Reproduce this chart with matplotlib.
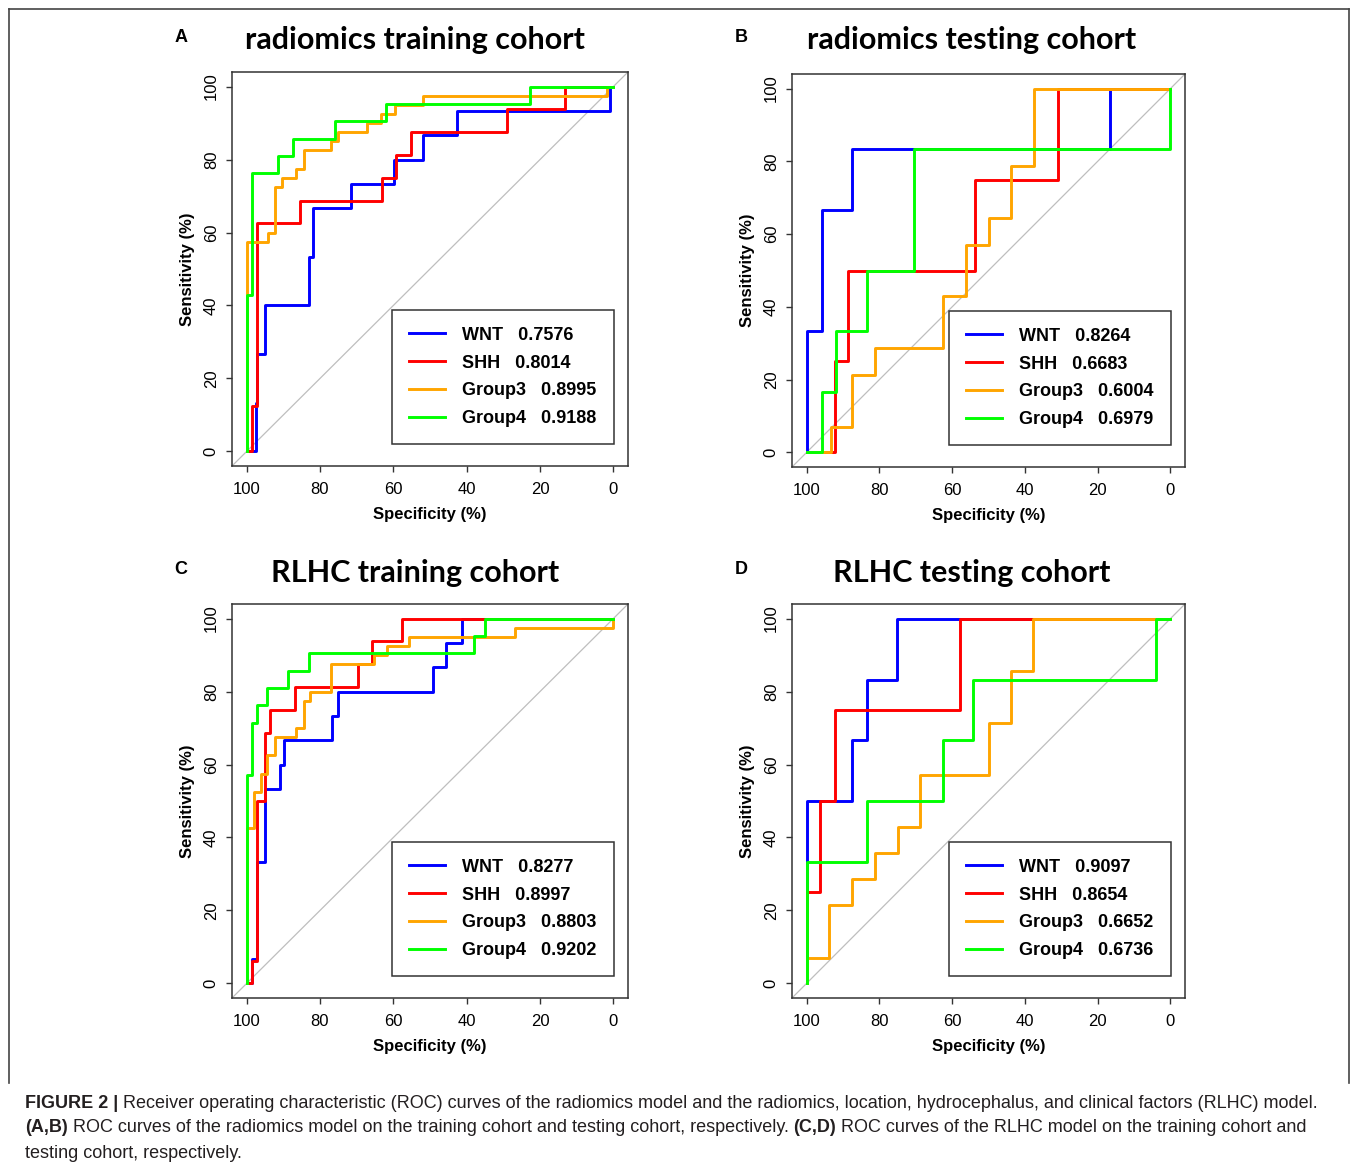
import matplotlib.pyplot as plt
from matplotlib.lines import Line2D

W, H = 1357, 1170

groups = ["WNT", "SHH", "Group3", "Group4"]
colors = ["#0000FF", "#FF0000", "#FFA500", "#00FF00"]
titles = ["radiomics training cohort", "radiomics testing cohort",
          "RLHC training cohort", "RLHC testing cohort"]
letters = ["A", "B", "C", "D"]

# AUC per panel (WNT, SHH, Group3, Group4)
auc_a = [0.7576, 0.8014, 0.8995, 0.9188]
auc_b = [0.8264, 0.6683, 0.6004, 0.6979]
auc_c = [0.8277, 0.8997, 0.8803, 0.9202]
auc_d = [0.9097, 0.8654, 0.6652, 0.6736]

# step corners (specificity %, sensitivity %), path starts at (100, 0)
a_wnt_spec = [97.4, 97.2, 94.9, 83.1, 81.9, 71.6, 59.7, 51.9, 42.5, 0.9, 0]
a_wnt_sens = [0, 13.3, 26.7, 40, 53.3, 66.7, 73.3, 80, 86.7, 93.3, 100]
a_shh_spec = [98.5, 97.2, 85.5, 63.1, 59.2, 55.2, 29.0, 13.1, 0]
a_shh_sens = [0, 12.5, 62.5, 68.75, 75, 81.25, 87.5, 93.75, 100]
a_g3_spec = [94.2, 92.4, 90.4, 86.6, 84.4, 76.9, 75.0, 67.2, 63.4, 59.5, 51.9, 1.8, 0]
a_g3_sens = [57.5, 60, 72.5, 75, 77.5, 82.5, 85, 87.5, 90, 92.5, 95, 97.5, 100]
a_g4_spec = [98.5, 91.5, 87.4, 75.9, 61.9, 22.6, 0]
a_g4_sens = [42.9, 76.2, 81.0, 85.7, 90.5, 95.2, 100]

b_wnt_spec = [95.8, 87.5, 16.7, 0]
b_wnt_sens = [33.3, 66.7, 83.3, 100]
b_shh_spec = [92.3, 88.5, 53.8, 30.9, 0]
b_shh_sens = [0, 25, 50, 75, 100]
b_g3_spec = [93.4, 87.5, 81.2, 62.4, 56.2, 49.8, 43.7, 37.5, 0]
b_g3_sens = [0, 7.1, 21.4, 28.6, 42.9, 57.1, 64.3, 78.6, 100]
b_g4_spec = [95.7, 91.9, 83.4, 70.6, 0, 0]
b_g4_sens = [0, 16.7, 33.3, 50, 83.3, 100]

c_wnt_spec = [98.5, 97.2, 94.9, 90.8, 89.7, 76.6, 75.2, 49.1, 45.5, 41.4, 0]
c_wnt_sens = [0, 6.7, 33.3, 53.3, 60, 66.7, 73.3, 80, 86.7, 93.3, 100]
c_shh_spec = [98.5, 97.2, 94.9, 93.5, 86.7, 69.7, 65.9, 57.6, 0]
c_shh_sens = [0, 6.25, 50, 68.75, 75, 81.25, 87.5, 93.75, 100]
c_g3_spec = [97.9, 96.1, 94.4, 92.4, 86.6, 84.4, 82.6, 76.9, 65.4, 61.6, 55.6, 26.8, 0, 0]
c_g3_sens = [42.5, 52.5, 57.5, 62.5, 67.5, 70, 77.5, 80, 87.5, 90, 92.5, 95, 97.5, 100]
c_g4_spec = [98.5, 97.2, 94.4, 88.7, 83.1, 38.0, 35.0, 0]
c_g4_sens = [57.1, 71.4, 76.2, 81.0, 85.7, 90.5, 95.2, 100]

d_wnt_spec = [87.5, 83.4, 75.1, 0]
d_wnt_sens = [50, 66.7, 83.3, 100]
d_shh_spec = [96.2, 92.3, 57.8, 0]
d_shh_sens = [25, 50, 75, 100]
d_g3_spec = [93.9, 87.5, 81.2, 75.0, 68.8, 49.8, 43.7, 37.7, 0]
d_g3_sens = [7.1, 21.4, 28.6, 35.7, 42.9, 57.1, 71.4, 85.7, 100]
d_g4_spec = [83.4, 62.4, 54.2, 4.1, 0]
d_g4_sens = [33.3, 50, 66.7, 83.3, 100]

panels = [
    ([(a_wnt_spec, a_wnt_sens), (a_shh_spec, a_shh_sens), (a_g3_spec, a_g3_sens), (a_g4_spec, a_g4_sens)], auc_a),
    ([(b_wnt_spec, b_wnt_sens), (b_shh_spec, b_shh_sens), (b_g3_spec, b_g3_sens), (b_g4_spec, b_g4_sens)], auc_b),
    ([(c_wnt_spec, c_wnt_sens), (c_shh_spec, c_shh_sens), (c_g3_spec, c_g3_sens), (c_g4_spec, c_g4_sens)], auc_c),
    ([(d_wnt_spec, d_wnt_sens), (d_shh_spec, d_shh_sens), (d_g3_spec, d_g3_sens), (d_g4_spec, d_g4_sens)], auc_d),
]

# pixel boxes (left, top, right, bottom) of the plot regions
boxes = [(232, 72, 628, 466), (792, 74, 1185, 467), (232, 604, 628, 998), (792, 604, 1185, 998)]
title_xy = [(415, 40), (972, 40), (415, 573), (972, 573)]
letter_xy = [(181, 38), (741, 38), (181, 570), (741, 570)]

plt.rcParams['font.family'] = ['Liberation Sans', 'DejaVu Sans']

fig = plt.figure(figsize=(W / 100, H / 100), dpi=100)
fig.patch.set_facecolor("white")

for i in range(4):
    l, t, r, b = boxes[i]
    ax = fig.add_axes([l / W, 1 - b / H, (r - l) / W, (b - t) / H])
    curves, aucs = panels[i]
    ax.axline((100, 0), (0, 100), color="#BEBEBE", lw=0.9, zorder=1)
    handles = []
    for (spec, sens), col in zip(curves, colors):
        ax.plot([100] + spec, [0] + sens, drawstyle="steps-pre", color=col, lw=2.1, zorder=2)
        handles.append(Line2D([], [], color=col, lw=2.1))
    labels = [g + "   " + "%.4f" % a for g, a in zip(groups, aucs)]
    ax.legend(handles, labels, loc="lower right", bbox_to_anchor=(0.964, 0.055),
              borderaxespad=0, prop={"weight": "bold", "size": 13},
              frameon=True, fancybox=False, framealpha=1, edgecolor="#333333",
              handlelength=2.0, handletextpad=0.95, labelspacing=0.6, borderpad=0.95)
    ax.get_legend().get_frame().set_linewidth(1.1)

    ax.set_xlim(104, -4)
    ax.set_ylim(-4, 104)
    ax.set_xticks([100, 80, 60, 40, 20, 0])
    ax.set_yticks([0, 20, 40, 60, 80, 100])
    ax.tick_params(direction="out", length=4.5, width=1, labelsize=12, color="#333333")
    ax.tick_params(axis="x", pad=7)
    ax.tick_params(axis="y", pad=5, labelrotation=90)
    for lab in ax.get_yticklabels():
        lab.set_va("center")
    for s in ax.spines.values():
        s.set_linewidth(1.1)
        s.set_color("#333333")
    ax.set_xlabel("Specificity (%)", fontsize=12, fontweight="bold", labelpad=7)
    ax.set_ylabel("Sensitivity (%)", fontsize=12, fontweight="bold", labelpad=6)

    tx, ty = title_xy[i]
    fig.text(tx / W, 1 - ty / H, titles[i], ha="center", va="center",
             fontsize=22, fontweight="bold", family=["Lato", "DejaVu Sans"])
    lx, ly = letter_xy[i]
    fig.text(lx / W, 1 - ly / H, letters[i], ha="center", va="center",
             fontsize=13, fontweight="bold")

# outer frame
fc = "#444444"
fig.add_artist(Line2D([8.5 / W, 8.5 / W], [1 - 1083 / H, 1 - 8.5 / H], color=fc, lw=1.2))
fig.add_artist(Line2D([8.5 / W, 1348.5 / W], [1 - 8.5 / H, 1 - 8.5 / H], color=fc, lw=1.2))
fig.add_artist(Line2D([1348.5 / W, 1348.5 / W], [1 - 8.5 / H, 1 - 1083 / H], color=fc, lw=1.2))

# caption
cap_lines = [
    [("FIGURE 2 |", "bold"), (" Receiver operating characteristic (ROC) curves of the radiomics model and the radiomics, location, hydrocephalus, and clinical factors (RLHC) model.", "normal")],
    [("(A,B)", "bold"), (" ROC curves of the radiomics model on the training cohort and testing cohort, respectively. ", "normal"),
     ("(C,D)", "bold"), (" ROC curves of the RLHC model on the training cohort and", "normal")],
    [("testing cohort, respectively.", "normal")],
]
cap_y = [1103, 1128, 1153]
renderer = fig.canvas.get_renderer()
for parts, y in zip(cap_lines, cap_y):
    x = 25
    for s, w in parts:
        t = fig.text(x / W, 1 - y / H, s, ha="left", va="center", fontsize=13,
                     fontweight=w, color="#231F20")
        bb = t.get_window_extent(renderer)
        x = bb.x1

fig.savefig("out.png", dpi=100, facecolor="white")
